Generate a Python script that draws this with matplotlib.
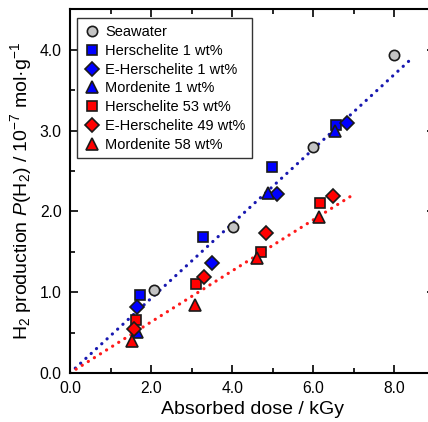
import matplotlib
matplotlib.use("Agg")
import matplotlib.pyplot as plt
import numpy as np

plt.rcParams['font.family'] = ['Liberation Sans', 'DejaVu Sans']
plt.rcParams['mathtext.fontset'] = 'custom'
plt.rcParams['mathtext.rm'] = 'Liberation Sans'
plt.rcParams['mathtext.it'] = 'Liberation Sans:italic'
plt.rcParams['mathtext.bf'] = 'Liberation Sans:bold'

# Data (dose in kGy, P(H2) in 1e-7 mol/g)
seawater_x = [2.07, 4.02, 6.00, 8.00]
seawater_y = [1.03, 1.81, 2.80, 3.94]

hers1_x = [1.72, 3.28, 4.97, 6.56]
hers1_y = [0.97, 1.68, 2.55, 3.07]

ehers1_x = [1.64, 3.49, 5.10, 6.82]
ehers1_y = [0.82, 1.36, 2.21, 3.10]

mord1_x = [1.64, 4.89, 6.53]
mord1_y = [0.51, 2.23, 3.00]

hers53_x = [1.63, 3.10, 4.72, 6.17]
hers53_y = [0.65, 1.10, 1.50, 2.11]

ehers49_x = [1.58, 3.30, 4.84, 6.49]
ehers49_y = [0.54, 1.19, 1.73, 2.19]

mord58_x = [1.54, 3.08, 4.61, 6.14]
mord58_y = [0.40, 0.84, 1.42, 1.93]

# fit lines (slope, x-range)
fit_blue_slope = 0.462
fit_blue_xmax = 8.42
fit_red_slope = 0.316
fit_red_xmax = 6.98

xticks = [0.0, 2.0, 4.0, 6.0, 8.0]
yticks = [0.0, 1.0, 2.0, 3.0, 4.0]

fig = plt.figure(figsize=(4.28, 4.22), dpi=100)
ax = fig.add_axes([70/428, 49/422, 365/428, 363.6/422])

blue = '#0000ff'
red = '#ff0000'
grey = '#c4c4c4'

xb = np.array([0.0, fit_blue_xmax])
ax.plot(xb, fit_blue_slope * xb, color='#1818b0', lw=2.3,
        linestyle=(0, (0.05, 2.2)), dash_capstyle='round', zorder=1)
xr = np.array([0.0, fit_red_xmax])
ax.plot(xr, fit_red_slope * xr, color='#ff1a1a', lw=2.3,
        linestyle=(0, (0.05, 2.2)), dash_capstyle='round', zorder=1)

mk = dict(linestyle='none', markeredgecolor='#1a1a1a', markeredgewidth=1.2, zorder=3)
ax.plot(seawater_x, seawater_y, marker='o', ms=7.4, mfc=grey, label='Seawater', **mk)
ax.plot(hers1_x, hers1_y, marker='s', ms=6.5, mfc=blue, label='Herschelite 1 wt%', **mk)
ax.plot(ehers1_x, ehers1_y, marker='D', ms=7.2, mfc=blue, label='E-Herschelite 1 wt%', **mk)
ax.plot(mord1_x, mord1_y, marker='^', ms=8.3, mfc=blue, label='Mordenite 1 wt%', **mk)
ax.plot(hers53_x, hers53_y, marker='s', ms=6.5, mfc=red, label='Herschelite 53 wt%', **mk)
ax.plot(ehers49_x, ehers49_y, marker='D', ms=7.2, mfc=red, label='E-Herschelite 49 wt%', **mk)
ax.plot(mord58_x, mord58_y, marker='^', ms=8.3, mfc=red, label='Mordenite 58 wt%', **mk)

ax.set_xlim(0, 9)
ax.set_ylim(0, 4.5)
ax.set_xticks(xticks)
ax.set_xticklabels([f'{v:.1f}' for v in xticks])
ax.set_yticks(yticks)
ax.set_yticklabels([f'{v:.1f}' for v in yticks])
ax.set_xticks(np.arange(1.0, 9.0, 2.0), minor=True)
ax.set_yticks(np.arange(0.5, 4.5, 1.0), minor=True)
ax.tick_params(which='both', direction='in', top=True, right=True, labelsize=11.3,
               width=1.2, colors='black')
ax.tick_params(which='major', length=6, pad=6)
ax.tick_params(which='minor', length=3.5)
for s in ax.spines.values():
    s.set_linewidth(1.5)

ax.set_xlabel('Absorbed dose / kGy', fontsize=14, labelpad=3)
ax.set_ylabel(r'H$_2$ production $\mathit{P}$(H$_2$) / 10$^{-7}$ mol·g$^{-1}$',
              fontsize=14, labelpad=4)

leg = ax.legend(loc='upper left', bbox_to_anchor=(0.018, 0.975), fontsize=10.5,
                frameon=True, fancybox=False, edgecolor='#333333', framealpha=1,
                handletextpad=0.3, handlelength=1.2, borderpad=0.45,
                labelspacing=0.33, borderaxespad=0)
leg.get_frame().set_linewidth(1.0)

fig.savefig('out.png', dpi=100)
